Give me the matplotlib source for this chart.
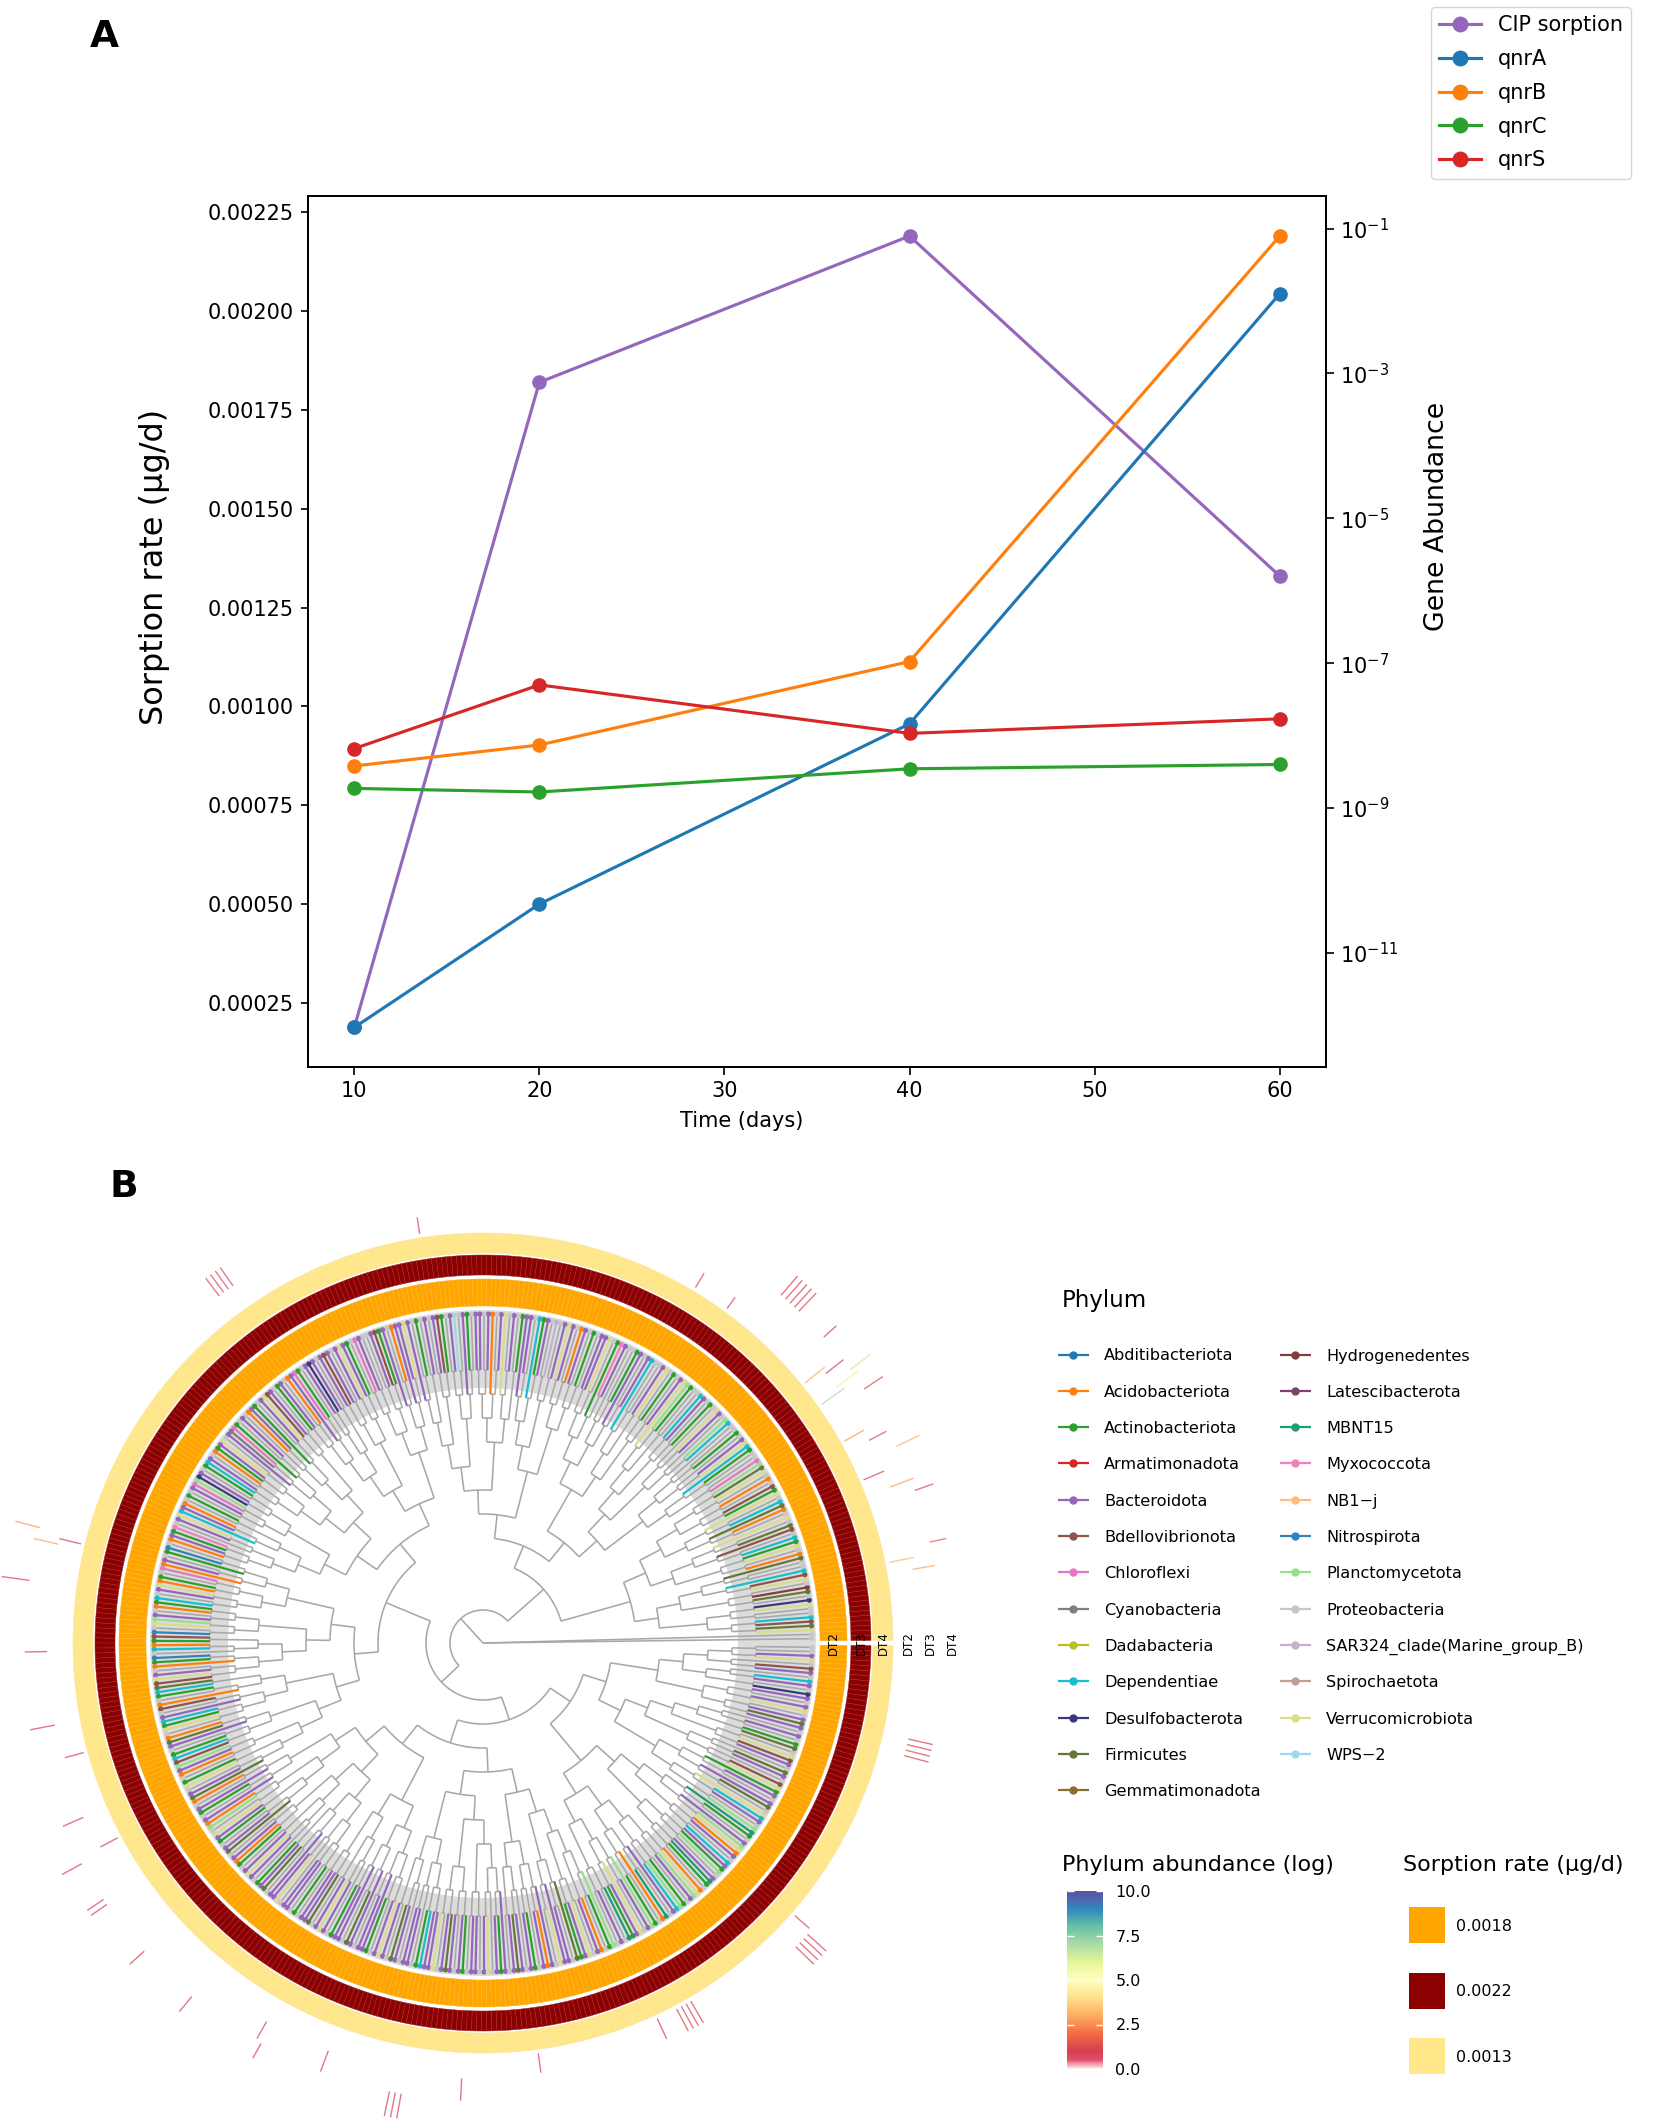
import numpy as np
import matplotlib
matplotlib.use("Agg")
import matplotlib.pyplot as plt
from matplotlib.collections import LineCollection, PatchCollection
from matplotlib.patches import Wedge, Rectangle
from matplotlib.colors import LinearSegmentedColormap, Normalize
from matplotlib.ticker import FixedLocator, NullLocator, FormatStrFormatter
import matplotlib.colorbar as mcolorbar

plt.rcParams['font.family'] = ['DejaVu Sans']

# ---------------- Panel A data ----------------
DAYS = [10, 20, 40, 60]
CIP_SORPTION = [0.000188, 0.00182, 0.00219, 0.00133]
GENES = ["qnrA", "qnrB", "qnrC", "qnrS"]
QNRA = [9.3e-13, 4.7e-11, 1.45e-8, 1.26e-2]
QNRB = [3.8e-9, 7.4e-9, 1.05e-7, 7.9e-2]
QNRC = [1.86e-9, 1.66e-9, 3.47e-9, 3.98e-9]
QNRS = [6.6e-9, 5.0e-8, 1.07e-8, 1.70e-8]
GENE_VALUES = [QNRA, QNRB, QNRC, QNRS]
GENE_COLORS = ["#1f77b4", "#ff7f0e", "#2ca02c", "#d62728"]
CIP_COLOR = "#9467bd"
X_TICKS = [10, 20, 30, 40, 50, 60]
LEFT_TICKS = [0.00025, 0.00050, 0.00075, 0.00100, 0.00125, 0.00150, 0.00175, 0.00200, 0.00225]
RIGHT_TICKS = [1e-11, 1e-9, 1e-7, 1e-5, 1e-3, 1e-1]

# ---------------- Panel B data ----------------
PHYLA = ["Abditibacteriota", "Acidobacteriota", "Actinobacteriota", "Armatimonadota",
         "Bacteroidota", "Bdellovibrionota", "Chloroflexi", "Cyanobacteria",
         "Dadabacteria", "Dependentiae", "Desulfobacterota", "Firmicutes",
         "Gemmatimonadota", "Hydrogenedentes", "Latescibacterota", "MBNT15",
         "Myxococcota", "NB1\u2212j", "Nitrospirota", "Planctomycetota",
         "Proteobacteria", "SAR324_clade(Marine_group_B)", "Spirochaetota",
         "Verrucomicrobiota", "WPS\u22122"]
PHYLUM_COLORS = ["#1f77b4", "#ff7f0e", "#2ca02c", "#d62728", "#9467bd", "#8c564b",
                 "#e377c2", "#7f7f7f", "#bcbd22", "#17becf", "#393b79", "#637939",
                 "#8c6d31", "#843c39", "#7b4173", "#1b9e77", "#f081c0", "#ffbb78",
                 "#3182bd", "#98df8a", "#c7c7c7", "#c5b0d5", "#c49c94", "#dbdb8d",
                 "#9edae5"]
# phylum of each tip, counter-clockwise from 0 deg (a = first phylum ... y = last)
LEAF_CODES = (
    "uuxlfjuuxk ulnuxfjuul buxcjuflux ubljuxcfub uxltguucjx eucuujtuex "
    "ucuejuuctx eucuxeuuje uecuueqcux eeucuebuex euvuecjuee cueuxeubeu "
    "eeuceuyeuc feueucuexe ebuecfeuue gucexeuefe uekeucgebu ecuefxeuce "
    "bueucgheux ecbuejcuek tgeucubejx euqcebuscu ebgucbxeuj cbuetxusfc "
    "bjuscbuexf ljcubfuejc xubleucjft ebucxuelbu ecuebtuxec ueluebcuex "
    "eucelueexu eeucueelue xeuceeuleu eecuexeule ueeucjeexu eleuecueeu "
    "exueceuele uecuebeuxe eulcexuebu ctueupcexu etcubpuejt cuetxbucpe "
    "utcejuebxt eucptuejxu leuecxfuel uefxulcueu eleuxeueku ejuefuxeuu"
).replace(" ", "")
# tree topology (integers = size of a sub-clade)
CLADE_A = [[18, 24], [[26, 22], [18, 28]]]
CLADE_B = [[34, [24, 20]], [34, 28]]
CLADE_C = [[[36, 22], [30, 26]], [[24, 18], [26, 20]]]
TREE = [1, 1, [CLADE_A, [CLADE_B, CLADE_C]]]

SAMPLES = ["DT2", "DT3", "DT4"]
SORPTION_RATE = [0.0018, 0.0022, 0.0013]
SORPTION_COLORS = ["#FFA500", "#8B0000", "#FFE78A"]
SORPTION_EDGES = ["#ffb424", "#a52424", "#fbe49a"]

# outer bars: tip index, sample column, bar value, phylum abundance (log)
BAR_LEAF = [12, 14, 16, 25, 27, 30, 33, 36, 38, 44, 46, 47, 48, 50, 51, 55,
            61, 62, 63, 64, 65, 71, 78, 131, 166, 167, 168, 169,
            220, 221, 222, 229, 241, 254, 260, 271, 277, 278, 285, 286, 296, 307,
            320, 321, 332, 344, 345, 346, 356, 370, 393, 397, 398, 399, 400,
            421, 422, 423, 424, 425, 460, 461, 462, 463]
BAR_COL = [1, 0, 2, 2, 1, 0, 2, 1, 0, 2, 0, 1, 2, 1, 0, 2,
           2, 2, 2, 2, 2, 0, 0, 0, 1, 1, 1, 1,
           2, 0, 1, 2, 1, 1, 0, 1, 0, 2, 2, 2, 2, 2,
           1, 2, 1, 2, 2, 2, 1, 0, 0, 0, 0, 0, 0,
           1, 1, 1, 1, 0, 1, 1, 1, 1]
BAR_VALUE = [0.8, 0.9, 0.6, 0.7, 0.9, 0.8, 0.9, 0.7, 0.8, 0.8, 1.0, 1.0, 0.9, 0.8, 0.9, 0.6,
             0.9, 0.9, 0.9, 0.9, 0.9, 0.5, 0.6, 0.6, 0.8, 0.8, 0.8, 0.8,
             0.9, 0.8, 0.9, 1.0, 0.8, 0.9, 0.7, 0.8, 0.7, 0.8, 0.7, 0.7, 0.7, 0.7,
             0.7, 0.6, 0.8, 0.9, 0.9, 0.9, 0.8, 0.7, 0.8, 0.9, 0.9, 0.9, 0.9,
             0.9, 0.9, 0.9, 0.9, 0.7, 0.9, 0.9, 0.9, 0.9]
BAR_ABUND = [2.8, 3.2, 1.5, 1.0, 2.8, 1.0, 3.0, 1.2, 2.6, 1.2, 7.0, 6.0, 6.5, 1.0, 3.0, 1.0,
             1.0, 1.0, 1.0, 1.0, 1.0, 1.0, 1.2, 1.0, 0.8, 0.8, 0.8, 0.8,
             2.6, 1.0, 2.8, 1.0, 1.0, 1.0, 1.0, 1.0, 1.0, 1.0, 1.0, 1.0, 1.0, 1.0,
             1.0, 1.0, 1.0, 1.0, 1.0, 1.0, 1.0, 1.0, 1.0, 0.9, 0.9, 0.9, 0.9,
             0.9, 0.9, 0.9, 0.9, 0.9, 0.9, 0.9, 0.9, 0.9]
ABUND_TICKS = [0.0, 2.5, 5.0, 7.5, 10.0]

# ---------------- figure ----------------
W, H = 1665, 2122
fig = plt.figure(figsize=(W / 100, H / 100), dpi=100)

# ======== Panel A ========
axA = fig.add_axes([308 / W, 1 - 1067 / H, 1018 / W, 870.5 / H])
lA, = axA.plot(DAYS, CIP_SORPTION, '-o', color=CIP_COLOR, lw=2.25, ms=9.5, label="CIP sorption")
axA2 = axA.twinx()
gene_lines = []
for g, vals, c in zip(GENES, GENE_VALUES, GENE_COLORS):
    ln, = axA2.plot(DAYS, vals, '-o', color=c, lw=2.25, ms=9.5, label=g)
    gene_lines.append(ln)
axA2.set_yscale('log')
axA2.yaxis.set_major_locator(FixedLocator(RIGHT_TICKS))
axA2.yaxis.set_minor_locator(NullLocator())
axA.xaxis.set_major_locator(FixedLocator(X_TICKS))
axA.yaxis.set_major_locator(FixedLocator(LEFT_TICKS))
axA.yaxis.set_major_formatter(FormatStrFormatter('%.5f'))
for a in (axA, axA2):
    a.tick_params(labelsize=15, length=5.4, width=1.2, pad=5)
    for s in a.spines.values():
        s.set_linewidth(1.4)
axA.set_xlabel("Time (days)", fontsize=15)
axA.xaxis.set_label_coords(0.426, -0.05)
axA.set_ylabel("Sorption rate (\u00b5g/d)", fontsize=23)
axA.yaxis.set_label_coords(-0.136, 0.574)
axA2.set_ylabel("Gene Abundance", fontsize=19.3)
axA2.yaxis.set_label_coords(1.096, 0.632)
fig.legend([lA] + gene_lines, ["CIP sorption"] + GENES, loc='upper right',
           bbox_to_anchor=(1631 / W, 1 - 7 / H), fontsize=15, labelspacing=0.66,
           borderaxespad=0, markerscale=1.1)
fig.text(104 / W, 1 - 37 / H, "A", fontsize=27, fontweight='bold', ha='center', va='center')
fig.text(124 / W, 1 - 1187 / H, "B", fontsize=27, fontweight='bold', ha='center', va='center')

# ======== Panel B : circular tree ========
bax = fig.add_axes([0, 0, 1000 / W, 962 / H])
bax.set_xlim(-483, 517)
bax.set_ylim(-479, 483)
bax.axis('off')

R_TIP, TERM, STEP = 329.0, 56.0, 24.0
BAND = (255, 333)
RINGS = [(337, 364), (368, 388), (390, 410)]
COL_BASE = [414, 436, 458]
COL_W = 22

def expand(node):
    if isinstance(node, int):
        if node == 1:
            return None
        k = int(np.ceil(node * 0.4))
        return [expand(k), expand(node - k)]
    return [expand(c) for c in node]

tree = expand(TREE)

def height(n):
    return 0 if n is None else 1 + max(height(c) for c in n)

codes = [ord(c) - ord('a') for c in LEAF_CODES]
N = len(codes)
leaf_ang = 2 * np.pi * (np.arange(N) + 1) / (N + 1)
dth = 360.0 / (N + 1)

grey_segs, col_segs, col_cols = [], [], []
counter = [0]

def pol(r, a):
    return (r * np.cos(a), r * np.sin(a))

def place(n, root=False):
    if n is None:
        i = counter[0]
        counter[0] += 1
        return leaf_ang[i], R_TIP, i
    r = 0.0 if root else R_TIP - TERM - (height(n) - 1) * STEP
    kids = [place(c) for c in n]
    a0, a1 = kids[0][0], kids[-1][0]
    if r > 0:
        aa = np.linspace(a0, a1, max(2, int(abs(a1 - a0) / 0.004) + 2))
        grey_segs.append(np.column_stack([r * np.cos(aa), r * np.sin(aa)]))
    for ca, cr, idx in kids:
        seg = [pol(r, ca), pol(cr, ca)]
        if idx is not None and codes[idx] != PHYLA.index("Proteobacteria"):
            col_segs.append(seg)
            col_cols.append(PHYLUM_COLORS[codes[idx]])
        else:
            grey_segs.append(seg)
    return (a0 + a1) / 2, r, None

place(tree, root=True)

bax.add_patch(Wedge((0, 0), BAND[1], 0, 360, width=BAND[1] - BAND[0],
                    facecolor='#dcdcdc', edgecolor='none', zorder=1))
bax.add_collection(LineCollection(grey_segs, colors='#a8a8a8', linewidths=1.15, zorder=2))
bax.add_collection(LineCollection(col_segs, colors=col_cols, linewidths=1.6, zorder=3))
bax.scatter(R_TIP * np.cos(leaf_ang), R_TIP * np.sin(leaf_ang), s=14,
            c=[PHYLUM_COLORS[k] for k in codes], linewidths=0, zorder=4)

# sorption-rate rings
for k, (r0, r1) in enumerate(RINGS):
    patches = [Wedge((0, 0), r1, np.degrees(a) - dth / 2, np.degrees(a) + dth / 2, width=r1 - r0)
               for a in leaf_ang]
    pc = PatchCollection(patches, facecolor=SORPTION_COLORS[k], edgecolor=SORPTION_EDGES[k],
                         linewidths=0.35, zorder=5)
    bax.add_collection(pc)
    bax.text((r0 + r1) / 2, 0, SAMPLES[k], rotation=90, ha='center', va='center',
             fontsize=8.5, zorder=6)
    bax.text(COL_BASE[k] + COL_W / 2, 0, SAMPLES[k], rotation=90, ha='center', va='center',
             fontsize=8.5, zorder=6)

# phylum abundance colour scale
CMAP = LinearSegmentedColormap.from_list("spec", [
    (0.0, "#fdeef1"), (0.05, "#e0506a"), (0.1, "#d53e4f"), (0.2, "#f46d43"),
    (0.3, "#fdae61"), (0.4, "#fee08b"), (0.5, "#ffffbf"), (0.6, "#e6f598"),
    (0.7, "#abdda4"), (0.8, "#66c2a5"), (0.9, "#3288bd"), (1.0, "#5e4fa2")])
NORM = Normalize(0, 10)

bar_segs, bar_cols = [], []
for li, ci, v, ab in zip(BAR_LEAF, BAR_COL, BAR_VALUE, BAR_ABUND):
    a = leaf_ang[li]
    r0 = COL_BASE[ci]
    bar_segs.append([pol(r0, a), pol(r0 + v * 28, a)])
    bar_cols.append(CMAP(NORM(ab)))
bax.add_collection(LineCollection(bar_segs, colors=bar_cols, linewidths=1.0, alpha=0.7, zorder=5))

# ======== legends of panel B ========
lax = fig.add_axes([0, 0, 1, 1])
lax.set_xlim(0, W)
lax.set_ylim(H, 0)
lax.axis('off')
lax.text(1062, 1300, "Phylum", fontsize=16.5, va='center', ha='left')
for i, (name, c) in enumerate(zip(PHYLA, PHYLUM_COLORS)):
    col, row = divmod(i, 13)
    x0 = 1058 if col == 0 else 1280
    y = 1354.5 + row * 36.3
    lax.plot([x0, x0 + 31], [y, y], color=c, lw=1.6, solid_capstyle='butt')
    lax.plot([x0 + 15.5], [y], 'o', color=c, ms=5)
    lax.text(x0 + 46, y, name, fontsize=11.6, va='center_baseline', ha='left')

lax.text(1062, 1865, "Phylum abundance (log)", fontsize=16, va='center', ha='left')
lax.text(1403, 1865, "Sorption rate (\u00b5g/d)", fontsize=16, va='center', ha='left')
for k, (val, c) in enumerate(zip(SORPTION_RATE, SORPTION_COLORS)):
    y0 = 1907 + k * 65.5
    lax.add_patch(Rectangle((1409, y0), 36, 36, facecolor=c, edgecolor='none'))
    lax.text(1456, y0 + 18, f"{val:.4f}", fontsize=11.5, va='center_baseline', ha='left')

cax = fig.add_axes([1067 / W, 1 - 2069 / H, 36 / W, 178 / H])
cb = mcolorbar.ColorbarBase(cax, cmap=CMAP, norm=NORM, orientation='vertical')
cb.outline.set_visible(False)
cb.set_ticks(ABUND_TICKS)
cb.set_ticklabels([f"{t:.1f}" for t in ABUND_TICKS])
cax.tick_params(length=0, pad=9, labelsize=11.5)
cax.hlines(ABUND_TICKS, 0, 0.2, colors='white', lw=1)
cax.hlines(ABUND_TICKS, 0.8, 1, colors='white', lw=1)

fig.savefig("out.png", dpi=100)
